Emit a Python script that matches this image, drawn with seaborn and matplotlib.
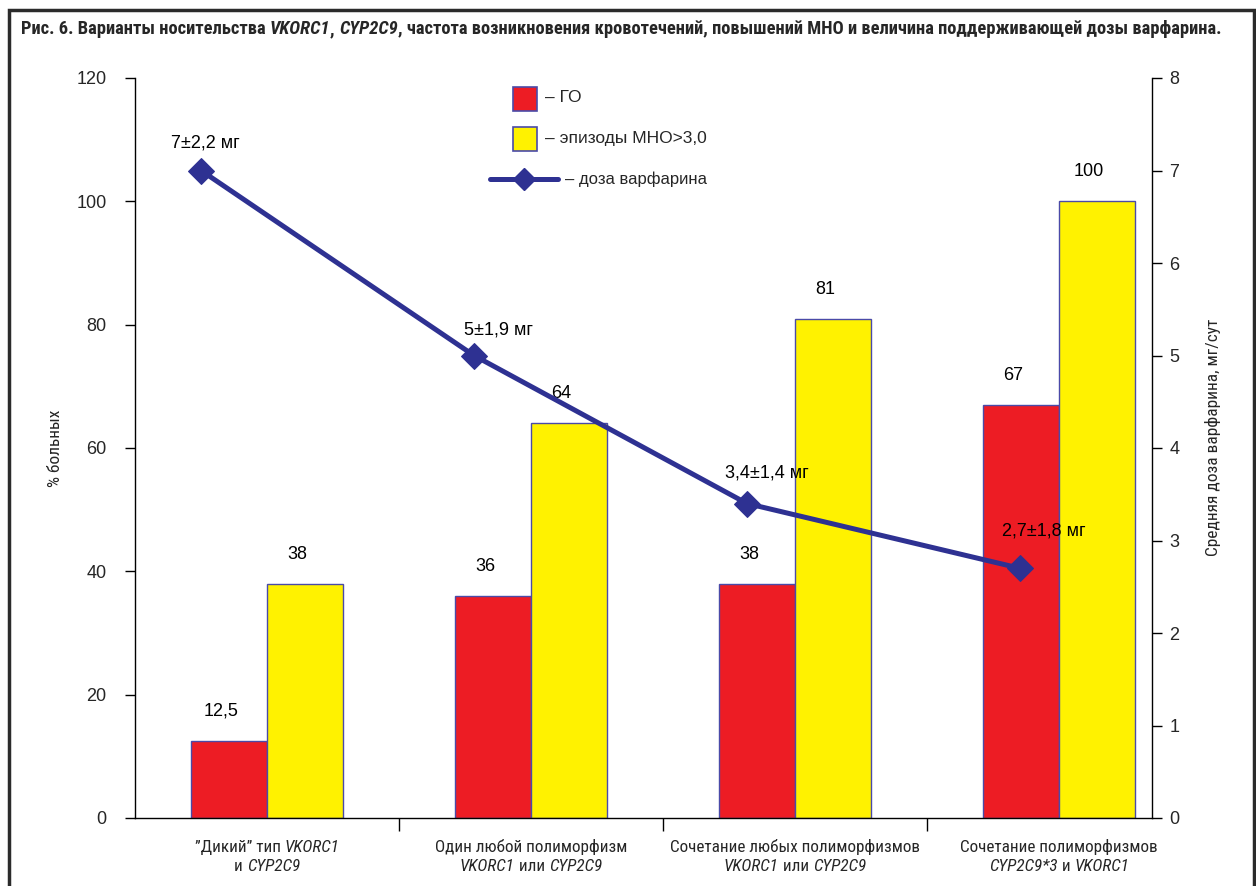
import matplotlib
matplotlib.use("Agg")
import matplotlib.pyplot as plt
from matplotlib import font_manager
from matplotlib.patches import Rectangle
from matplotlib.lines import Line2D
import numpy as np
import pandas as pd
import seaborn as sns

# --- data -------------------------------------------------------------
groups = ["g1", "g2", "g3", "g4"]
bleeding = [12.5, 36, 38, 67]          # ГО, % больных
inr_episodes = [38, 64, 81, 100]       # эпизоды МНО>3,0, % больных
dose_mean = [7, 5, 3.4, 2.7]           # доза варфарина, мг/сут
dose_sd = [2.2, 1.9, 1.4, 1.8]
series_names = ["ГО", "эпизоды МНО>3,0"]
legend_labels = ["– ГО", "– эпизоды МНО>3,0", "– доза варфарина"]
left_ticks = [0, 20, 40, 60, 80, 100, 120]
right_ticks = [0, 1, 2, 3, 4, 5, 6, 7, 8]

# category captions, each line split into (text, italic) runs
cat_lines = [
    [[("”Дикий” тип ", False), ("VKORC1", True)],
     [("и ", False), ("CYP2C9", True)]],
    [[("Один любой полиморфизм", False)],
     [("VKORC1", True), (" или ", False), ("CYP2C9", True)]],
    [[("Сочетание любых полиморфизмов", False)],
     [("VKORC1", True), (" или ", False), ("CYP2C9", True)]],
    [[("Сочетание полиморфизмов", False)],
     [("CYP2C9*3", True), (" и ", False), ("VKORC1", True)]],
]
title_runs = [
    ("Рис. 6. Варианты носительства ", False),
    ("VKORC1", True),
    (", ", False),
    ("CYP2C9", True),
    (", частота возникновения кровотечений, повышений МНО и величина поддерживающей дозы варфарина.", False),
]

# --- style ------------------------------------------------------------
sns.set_theme(style="white")
installed = {f.name for f in font_manager.fontManager.ttflist}
REG = "Liberation Sans"
NARROW = REG
for cand in ["Liberation Sans Narrow", "Roboto Condensed", "Open Sans Condensed",
             "Noto Sans Condensed", "DejaVu Sans Condensed"]:
    if cand in installed:
        NARROW = cand
        break
plt.rcParams["font.family"] = [REG, "DejaVu Sans"]

RED = "#ed1c24"
YELLOW = "#fff200"
NAVY = "#2e3192"
EDGE = "#4a4aa8"

W, H, DPI = 1256, 886, 100
fig = plt.figure(figsize=(W / DPI, H / DPI), dpi=DPI)
fig.patch.set_facecolor("white")

x0, x1 = 135, 1152
y_top, y_bot = 78, 818
cat_px = 264                      # width of one category slot in pixels
rect = [x0 / W, 1 - y_bot / H, (x1 - x0) / W, (y_bot - y_top) / H]
ax = fig.add_axes(rect)

df = pd.DataFrame({
    "group": groups * 2,
    "series": [series_names[0]] * 4 + [series_names[1]] * 4,
    "value": bleeding + inr_episodes,
})
sns.barplot(data=df, x="group", y="value", hue="series",
            palette=[RED, YELLOW], width=0.576, gap=0,
            edgecolor=EDGE, linewidth=1.0, saturation=1,
            legend=False, ax=ax)

ax.set_xlim(-0.5, -0.5 + (x1 - x0) / cat_px)
ax.set_ylim(0, 120)
ax.set_yticks(left_ticks)
ax.set_yticklabels([str(t) for t in left_ticks], fontsize=13, family=REG)
ax.set_xticks([0.5, 1.5, 2.5])
ax.set_xticklabels([])
ax.tick_params(axis="y", direction="out", length=7.5, width=1, color="black", pad=13, left=True)
ax.tick_params(axis="x", direction="out", length=9, width=1, color="black", bottom=True)
ax.set_xlabel("")
ax.set_ylabel("")
for side in ["top", "right"]:
    ax.spines[side].set_visible(False)
for side in ["left", "bottom"]:
    ax.spines[side].set_color("black")
    ax.spines[side].set_linewidth(1.0)

# value labels above bars
for cont, vals in zip(ax.containers, [bleeding, inr_episodes]):
    for patch, v in zip(cont.patches, vals):
        txt = f"{v:g}".replace(".", ",")
        ax.annotate(txt, (patch.get_x() + patch.get_width() / 2, patch.get_height()),
                    xytext=(-8, 25), textcoords="offset pixels",
                    ha="center", va="baseline", fontsize=13, family=REG, color="black")

# dose line on its own axes with the right-hand scale
ax2 = fig.add_axes(rect, facecolor="none")
ax2.set_xlim(-0.242, 3.484)
ax2.set_ylim(0, 8)
xi = np.arange(len(dose_mean))
sns.lineplot(x=xi, y=dose_mean, ax=ax2, color=NAVY, linewidth=3.6,
             marker="D", markersize=13, markeredgecolor=NAVY, markerfacecolor=NAVY)
dose_label_offsets = [(4, 23), (25, 21), (20, 26), (24, 33)]
for i, (m, s) in enumerate(zip(dose_mean, dose_sd)):
    lab = f"{m:g}±{s:g} мг".replace(".", ",")
    ax2.annotate(lab, (i, m), xytext=dose_label_offsets[i], textcoords="offset pixels",
                 ha="center", va="baseline", fontsize=13, family=REG, color="black")
ax2.xaxis.set_visible(False)
ax2.yaxis.tick_right()
ax2.set_yticks(right_ticks)
ax2.set_yticklabels([str(t) for t in right_ticks], fontsize=13, family=REG)
ax2.tick_params(axis="y", direction="out", length=7.5, width=1, color="black", pad=5, right=True)
for side in ["top", "left", "bottom"]:
    ax2.spines[side].set_visible(False)
ax2.spines["right"].set_color("black")
ax2.spines["right"].set_linewidth(1.0)

renderer = fig.canvas.get_renderer()

def run_width(s, **kw):
    t = fig.text(0, 0, "|" + s + "|", **kw)
    t2 = fig.text(0, 0, "||", **kw)
    w = t.get_window_extent(renderer).width - t2.get_window_extent(renderer).width
    t.remove(); t2.remove()
    return w

def fit_size(runs, target_px, base=12.5, **kw):
    total = sum(run_width(s, fontstyle="italic" if it else "normal", fontsize=base, **kw)
                for s, it in runs)
    return base * target_px / total

def draw_runs(xc_px, ybase_px, runs, ha="center", **kw):
    widths = [run_width(s, fontstyle="italic" if it else "normal", **kw) for s, it in runs]
    total = sum(widths)
    x = xc_px - total / 2 if ha == "center" else xc_px
    for (s, it), w in zip(runs, widths):
        fig.text(x / W, 1 - ybase_px / H, s, fontstyle="italic" if it else "normal",
                 ha="left", va="baseline", **kw)
        x += w

# axis titles
label_fs = 12.5 if NARROW != REG else 11
fig.text(55 / W, 1 - 448 / H, "% больных", rotation=90, ha="center", va="center",
         fontsize=label_fs, family=NARROW)
fig.text(1213 / W, 1 - 437 / H, "Средняя доза варфарина, мг/сут", rotation=90,
         ha="center", va="center", fontsize=label_fs, family=NARROW)

# legend drawn by hand in figure pixels
def px_rect(x, y, w, h, **kw):
    fig.patches.append(Rectangle((x / W, 1 - (y + h) / H), w / W, h / H,
                                 transform=fig.transFigure, figure=fig, **kw))

px_rect(513, 87, 24, 24, facecolor=RED, edgecolor=EDGE, linewidth=1.2)
px_rect(513, 127, 24, 24, facecolor=YELLOW, edgecolor=EDGE, linewidth=1.2)
fig.lines.append(Line2D([490 / W, 558 / W], [1 - 179 / H, 1 - 179 / H],
                        transform=fig.transFigure, figure=fig, color=NAVY, linewidth=3.6))
fig.lines.append(Line2D([524 / W], [1 - 179 / H], transform=fig.transFigure, figure=fig,
                        color=NAVY, marker="D", markersize=11, linestyle="none"))
fig.text(545 / W, 1 - 98 / H, legend_labels[0], ha="left", va="center", fontsize=12.5, family=REG)
fig.text(545 / W, 1 - 138 / H, legend_labels[1], ha="left", va="center", fontsize=12.5, family=REG)
fig.text(565 / W, 1 - 179 / H, legend_labels[2], ha="left", va="center", fontsize=12, family=REG)

# category captions under the axis
cat_fs = min(12.5, fit_size(cat_lines[2][0], 250, family=NARROW))
group_px = [x0 + cat_px * (i + 0.5) for i in range(4)]
for xc, lines in zip(group_px, cat_lines):
    draw_runs(xc, 852, lines[0], fontsize=cat_fs, family=NARROW)
    draw_runs(xc, 871, lines[1], fontsize=cat_fs, family=NARROW)

# title
title_fs = min(15, fit_size(title_runs, 1206, family=NARROW, fontweight="bold"))
draw_runs(621, 34, title_runs, fontsize=title_fs, family=NARROW, fontweight="bold")

# outer frame
fig.patches.append(Rectangle((9 / W, -0.01), (1254 - 9) / W, 1 - 10 / H + 0.01,
                             transform=fig.transFigure, figure=fig, fill=False,
                             edgecolor="#2b2b2b", linewidth=2.5))

fig.savefig("out.png", dpi=DPI, facecolor="white")
